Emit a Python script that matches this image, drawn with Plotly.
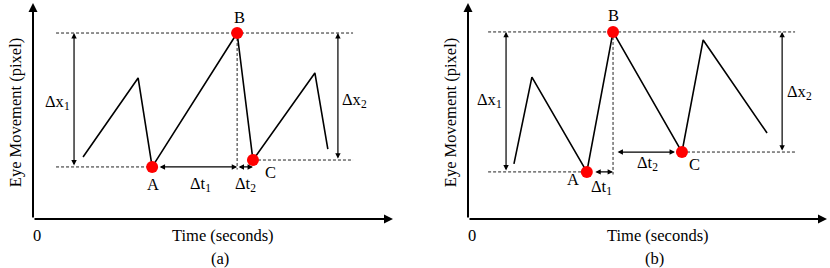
import plotly.graph_objects as go

# ---------------- data ----------------
time_a = [1.39, 2.92, 3.31, 5.67, 6.11, 7.83, 8.19]
eye_a = [2.87, 6.53, 2.41, 8.61, 2.73, 6.76, 3.24]
time_b = [1.28, 1.78, 3.31, 4.04, 5.96, 6.55, 8.33]
eye_b = [2.55, 6.57, 2.18, 8.66, 3.10, 8.29, 3.98]
point_labels = ["A", "B", "C"]
point_index = [2, 3, 4]
panel_labels = ["(a)", "(b)"]
x_title = "Time (seconds)"
y_title = "Eye Movement (pixel)"
origin_label = "0"

# ---------------- layout constants ----------------
W, H = 830, 268
OFF = 0                                  # body margin removed by post_script
FONT = "Liberation Serif"
FS = 16.5
panel_px = [(33, 393), (468, 827)]      # x pixel domains (axis origin -> arrow tip)
y_px = (219, 3)                          # y pixel domain (bottom, top)
guide_left = [0.64, 0.56]
guide_right = [8.89, 9.11]
dx_arrow_x = [(1.14, 8.47), (1.06, 8.75)]
label_offsets = [
    {"A": (1, -18), "B": (2, 16), "C": (18, -12)},
    {"A": (-14, -8), "B": (0, 16), "C": (13, -12)},
]
dx_label_y = [(5.42, 5.5), (5.5, 5.88)]

fig = go.Figure()
annotations = []

panels = [(time_a, eye_a), (time_b, eye_b)]
for p, (tx, ey) in enumerate(panels):
    xa = "x" if p == 0 else "x2"
    ya = "y" if p == 0 else "y2"
    ia, ib, ic = point_index
    Ax, Ay = tx[ia], ey[ia]
    Bx, By = tx[ib], ey[ib]
    Cx, Cy = tx[ic], ey[ic]
    dash = dict(color="#222222", width=1, dash="3px,2px")
    # dashed guides
    fig.add_trace(go.Scatter(x=[guide_left[p], guide_right[p]], y=[By, By], mode="lines",
                             line=dash, xaxis=xa, yaxis=ya, hoverinfo="skip"))
    fig.add_trace(go.Scatter(x=[guide_left[p], Ax], y=[Ay, Ay], mode="lines",
                             line=dash, xaxis=xa, yaxis=ya, hoverinfo="skip"))
    fig.add_trace(go.Scatter(x=[Cx, guide_right[p]], y=[Cy, Cy], mode="lines",
                             line=dash, xaxis=xa, yaxis=ya, hoverinfo="skip"))
    fig.add_trace(go.Scatter(x=[Bx, Bx], y=[By, Ay - 0.12], mode="lines",
                             line=dash, xaxis=xa, yaxis=ya, hoverinfo="skip"))
    # signal
    fig.add_trace(go.Scatter(x=tx, y=ey, mode="lines",
                             line=dict(color="black", width=1.6),
                             xaxis=xa, yaxis=ya, hoverinfo="skip"))
    # key points
    fig.add_trace(go.Scatter(x=[tx[i] for i in point_index], y=[ey[i] for i in point_index],
                             mode="markers", marker=dict(color="#ff0000", size=12),
                             xaxis=xa, yaxis=ya, hoverinfo="skip"))

    def arrow(x0, y0, x1, y1, both=True, width=1.2, size=0.9, head=2, ss=0, es=0):
        annotations.append(dict(x=x1, y=y1, ax=x0, ay=y0, xref=xa, yref=ya,
                                axref=xa, ayref=ya, text="", showarrow=True,
                                arrowhead=head, startarrowhead=head,
                                arrowside="end+start" if both else "end",
                                arrowsize=size, startarrowsize=size,
                                arrowwidth=width, arrowcolor="black",
                                standoff=es, startstandoff=ss))

    def text(x, y, t, xs=0, ys=0, angle=0):
        annotations.append(dict(x=x, y=y, xref=xa, yref=ya, text=t, showarrow=False,
                                xshift=xs, yshift=ys, textangle=angle,
                                font=dict(family=FONT, size=FS, color="black")))

    # axes with arrows
    arrow(0, 0, 10, 0, both=False, width=2, size=0.9, head=2)
    arrow(0, 0, 0, 10, both=False, width=2, size=0.9, head=2)

    # delta x arrows
    arrow(dx_arrow_x[p][0], Ay, dx_arrow_x[p][0], By)
    arrow(dx_arrow_x[p][1], Cy, dx_arrow_x[p][1], By)
    text(dx_arrow_x[p][0], dx_label_y[p][0], "Δx<sub>1</sub>", xs=-17)
    text(dx_arrow_x[p][1], dx_label_y[p][1], "Δx<sub>2</sub>", xs=17)

    # delta t arrows
    if p == 0:
        arrow(Ax, Ay, Bx, Ay, ss=6)
        arrow(Bx, Ay, Cx, Ay, es=0)
        text((Ax + Bx) / 2, Ay, "Δt<sub>1</sub>", xs=6, ys=-17)
        text((Bx + Cx) / 2, Ay, "Δt<sub>2</sub>", ys=-17)
    else:
        arrow(Ax, Ay, Bx, Ay, ss=7)
        arrow(Bx, Cy, Cx, Cy, ss=3, es=7)
        text((Ax + Bx) / 2, Ay, "Δt<sub>1</sub>", xs=2, ys=-15)
        text((Bx + Cx) / 2, Cy, "Δt<sub>2</sub>", ys=-11)

    # point labels
    for lab, i in zip(point_labels, point_index):
        dx, dy = label_offsets[p][lab]
        text(tx[i], ey[i], lab, xs=dx, ys=dy)

    # axis texts
    text(0, 0, origin_label, xs=4, ys=-16)
    text(5.28, 0, x_title, ys=-16)
    text(5.2, 0, panel_labels[p], ys=-39)
    text(0, 4.9, y_title, xs=-18, angle=-90)

def dom(px0, px1):
    return [(px0 - OFF) / W, (px1 - OFF) / W]

ydom = [(H - (y_px[0] - OFF)) / H, (H - (y_px[1] - OFF)) / H]
axis_common = dict(visible=False, fixedrange=True)
fig.update_layout(
    width=W, height=H,
    margin=dict(l=0, r=0, t=0, b=0),
    paper_bgcolor="white", plot_bgcolor="white",
    showlegend=False,
    xaxis=dict(domain=dom(*panel_px[0]), anchor="y", range=[0, 10], **axis_common),
    yaxis=dict(domain=ydom, anchor="x", range=[0, 10], **axis_common),
    xaxis2=dict(domain=dom(*panel_px[1]), anchor="y2", range=[0, 10], **axis_common),
    yaxis2=dict(domain=ydom, anchor="x2", range=[0, 10], **axis_common),
    annotations=annotations,
    font=dict(family=FONT, size=FS, color="black"),
)

fig.write_html("out.html", config={"displayModeBar": False, "staticPlot": True},
               post_script="document.body.style.margin='0px';")
